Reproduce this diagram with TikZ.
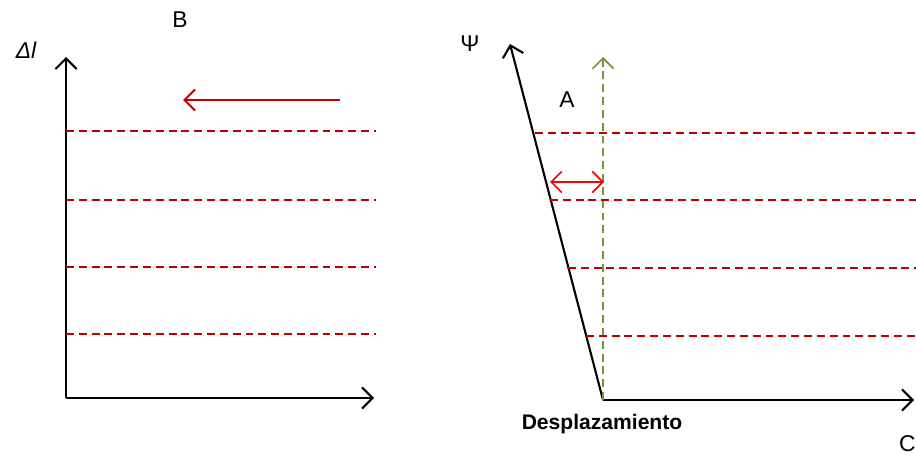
\documentclass[tikz,border=0pt]{standalone}
\usepackage{xcolor}
\usepackage{fontspec}
\setmainfont{Liberation Sans}
\usepackage{tikz}
\usetikzlibrary{arrows.meta,positioning}
\definecolor{levelred}{HTML}{C00000}
\definecolor{shiftred}{HTML}{FF0000}
\definecolor{refgreen}{HTML}{77933C}

\tikzset{
  axis/.style={black,line width=1.2pt,-{Straight Barb[length=6pt,width=12pt]}},
  level/.style={levelred,line width=1pt,dash pattern=on 4.5pt off 2.8pt},
  lbl/.style={font=\fontsize{13}{15}\selectfont}
}

\begin{document}
\begin{tikzpicture}[x=0.02cm,y=0.02cm]
  \useasboundingbox (0,0) rectangle (916,454);

  % Left diagram
  \coordinate (o1) at (66,56);
  \coordinate (y1) at (66,397);
  \coordinate (x1) at (374,56);
  \draw[axis] (o1) -- (y1);
  \draw[axis] (o1) -- (x1);
  \foreach \h/\n in {323/a,254/b,187/c,120/d} {
    \coordinate (l\n s) at (66,\h);
    \coordinate (l\n e) at (376,\h);
    \draw[level] (l\n s) -- (l\n e);
  }
  \coordinate (p1) at (340,354);
  \coordinate (p2) at (183,354);
  \draw[levelred,line width=1.2pt,-{Straight Barb[length=6pt,width=12pt]}] (p1) -- (p2);

  % Labels
  \node[lbl] (lblB) at (180,434) {B};
  \node[font=\fontsize{13}{15}\selectfont\itshape] (lblDl) at (26,404) {Δl};

  % Right diagram
  \coordinate (o2) at (603,54);
  \coordinate (y2) at (510,410);
  \coordinate (x2) at (914,54);
  \coordinate (g2) at (603,397);
  \draw[axis] (o2) -- (y2);
  \draw[axis] (o2) -- (x2);
  \draw[refgreen,line width=1pt,dash pattern=on 4.5pt off 2.8pt,
        -{Straight Barb[length=6pt,width=12pt]}] (o2) -- (g2);
  \foreach \h/\x/\n in {321/535/a,254/550/b,186/568/c,118/586/d} {
    \coordinate (r\n s) at (\x,\h);
    \coordinate (r\n e) at (916,\h);
    \draw[level] (r\n s) -- (r\n e);
  }
  \coordinate (q1) at (550,272);
  \coordinate (q2) at (604,272);
  \draw[shiftred,line width=1pt,{Straight Barb[length=6pt,width=12pt]}-{Straight Barb[length=6pt,width=12pt]}] (q1) -- (q2);

  % Labels
  \node[lbl] (lblA) at (567,354) {A};
  \node[lbl] (lblPsi) at (470,410) {Ψ};
  \node[font=\fontsize{12}{14}\selectfont\bfseries] (lblDesp) at (602,30) {Desplazamiento};
  \node[lbl,anchor=east,inner sep=0pt] (lblC) at (916,10) {C};
\end{tikzpicture}
\end{document}
